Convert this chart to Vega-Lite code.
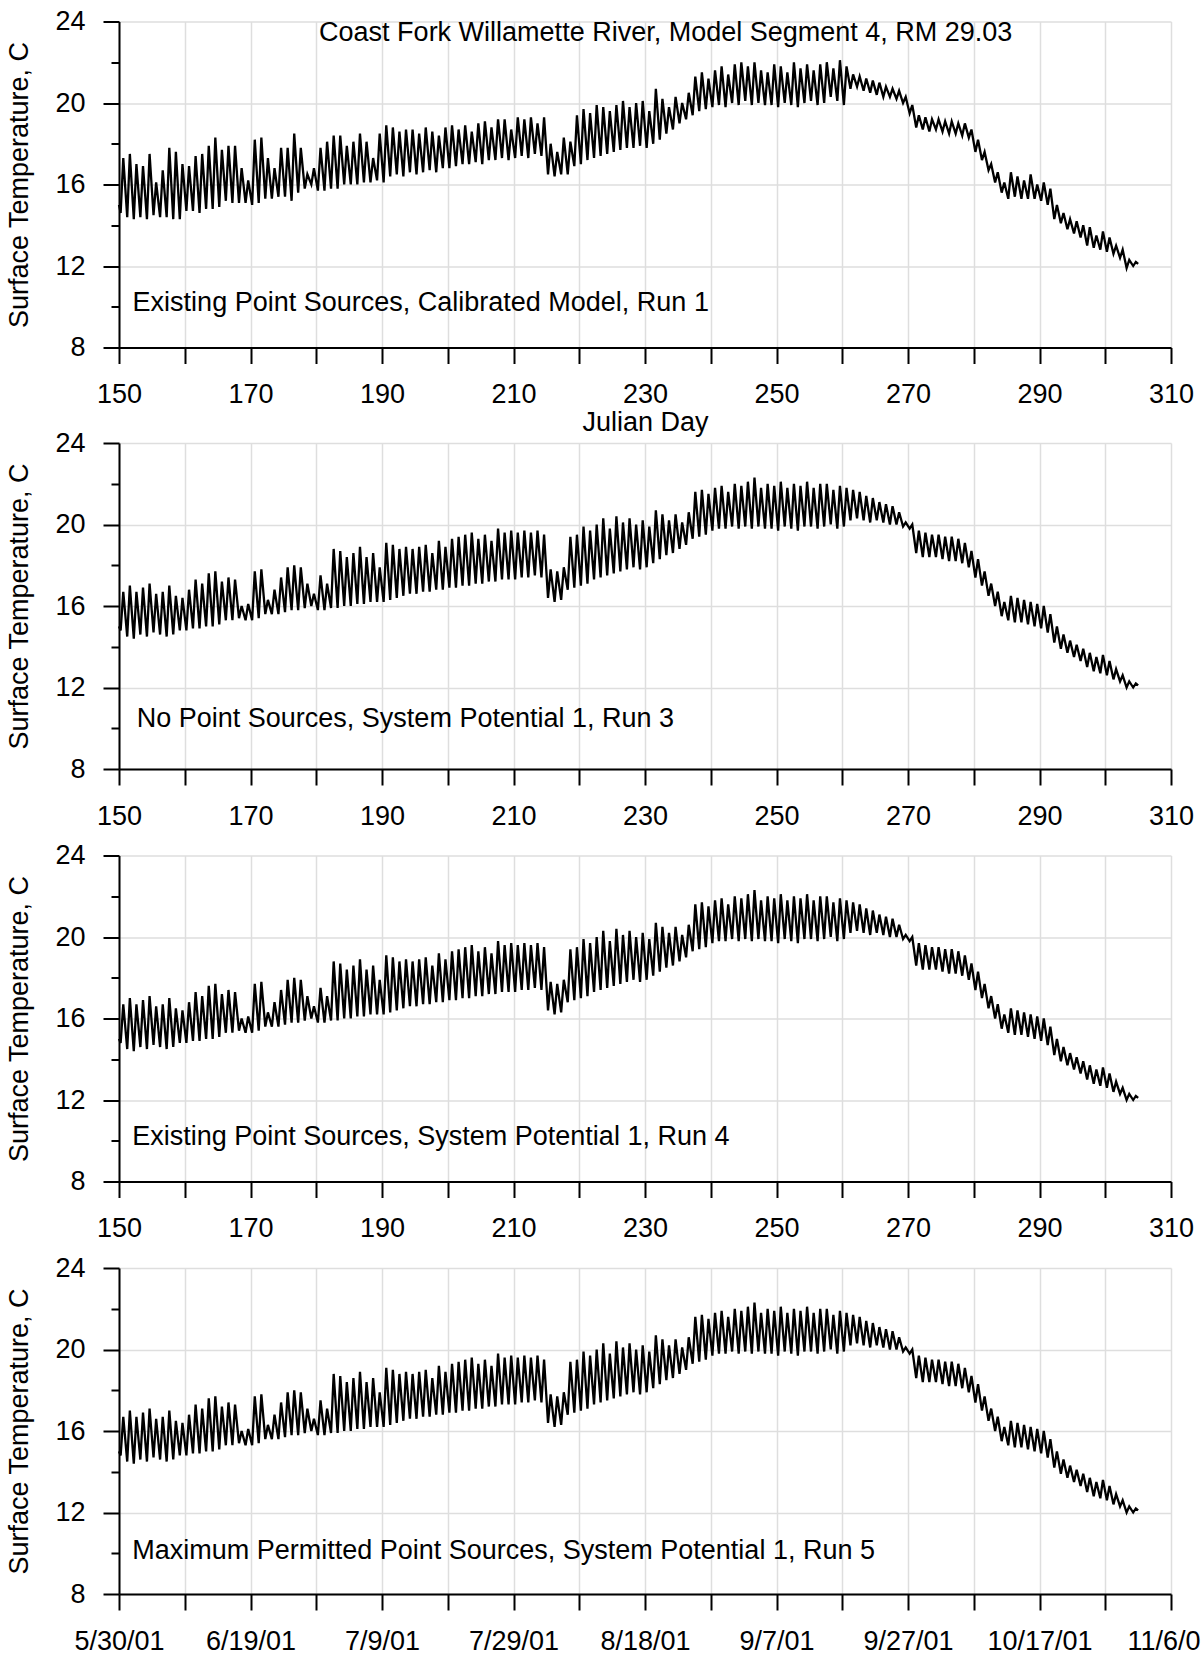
{
"$schema":"https://vega.github.io/schema/vega-lite/v6.json",
"padding":{"left":5,"top":7.5,"right":-14,"bottom":0},
"autosize":{"type":"pad"},
"background":"white",
"config":{"font":"Liberation Sans","view":{"stroke":null},
"axis":{"domainColor":"black","domainWidth":2,"tickColor":"black","tickWidth":2,"gridColor":"#dedede","gridWidth":1.5,"labelFont":"Liberation Sans","labelFontSize":27,"labelColor":"black","titleFont":"Liberation Sans","titleFontSize":27,"titleFontWeight":"normal","titleColor":"black","labelOverlap":false,"labelFlush":false}},
"datasets":{"temps":[
{"d":150,"r1":15.0,"sp":15.0},
{"d":150.25,"r1":14.6,"sp":14.8},{"d":150.65,"r1":17.3,"sp":16.7},
{"d":151.25,"r1":14.4,"sp":14.5},{"d":151.65,"r1":17.5,"sp":17.0},
{"d":152.25,"r1":14.3,"sp":14.4},{"d":152.65,"r1":17.0,"sp":16.7},
{"d":153.25,"r1":14.4,"sp":14.6},{"d":153.65,"r1":16.9,"sp":16.9},
{"d":154.25,"r1":14.3,"sp":14.5},{"d":154.65,"r1":17.5,"sp":17.1},
{"d":155.25,"r1":14.5,"sp":14.7},{"d":155.65,"r1":16.1,"sp":16.6},
{"d":156.25,"r1":14.4,"sp":14.6},{"d":156.65,"r1":16.7,"sp":16.7},
{"d":157.25,"r1":14.4,"sp":14.5},{"d":157.65,"r1":17.8,"sp":17.0},
{"d":158.25,"r1":14.3,"sp":14.6},{"d":158.65,"r1":17.6,"sp":16.5},
{"d":159.25,"r1":14.3,"sp":14.8},{"d":159.65,"r1":17.0,"sp":16.4},
{"d":160.25,"r1":14.7,"sp":14.8},{"d":160.65,"r1":16.9,"sp":16.8},
{"d":161.25,"r1":14.7,"sp":14.9},{"d":161.65,"r1":17.4,"sp":17.3},
{"d":162.25,"r1":14.6,"sp":14.9},{"d":162.65,"r1":17.5,"sp":17.1},
{"d":163.25,"r1":14.8,"sp":15.0},{"d":163.65,"r1":17.9,"sp":17.6},
{"d":164.25,"r1":14.8,"sp":15.0},{"d":164.65,"r1":18.3,"sp":17.7},
{"d":165.25,"r1":14.9,"sp":15.1},{"d":165.65,"r1":17.7,"sp":17.2},
{"d":166.25,"r1":15.2,"sp":15.3},{"d":166.65,"r1":17.9,"sp":17.4},
{"d":167.25,"r1":15.1,"sp":15.3},{"d":167.65,"r1":17.9,"sp":17.3},
{"d":168.25,"r1":15.1,"sp":15.4},{"d":168.65,"r1":16.8,"sp":16.0},
{"d":169.25,"r1":15.1,"sp":15.3},{"d":169.65,"r1":16.2,"sp":16.1},
{"d":170.25,"r1":15.0,"sp":15.3},{"d":170.65,"r1":18.2,"sp":17.7},
{"d":171.25,"r1":15.1,"sp":15.4},{"d":171.65,"r1":18.3,"sp":17.8},
{"d":172.25,"r1":15.3,"sp":15.6},{"d":172.65,"r1":17.3,"sp":16.3},
{"d":173.25,"r1":15.3,"sp":15.6},{"d":173.65,"r1":16.8,"sp":16.8},
{"d":174.25,"r1":15.4,"sp":15.6},{"d":174.65,"r1":17.8,"sp":17.4},
{"d":175.25,"r1":15.4,"sp":15.7},{"d":175.65,"r1":17.8,"sp":17.9},
{"d":176.25,"r1":15.2,"sp":15.8},{"d":176.65,"r1":18.5,"sp":18.0},
{"d":177.25,"r1":15.6,"sp":15.8},{"d":177.65,"r1":17.8,"sp":17.9},
{"d":178.25,"r1":15.8,"sp":15.9},{"d":178.65,"r1":16.5,"sp":17.1},
{"d":179.25,"r1":16.0,"sp":16.0},{"d":179.65,"r1":16.8,"sp":16.6},
{"d":180.25,"r1":15.7,"sp":15.8},{"d":180.65,"r1":17.8,"sp":17.5},
{"d":181.25,"r1":15.7,"sp":15.8},{"d":181.65,"r1":18.1,"sp":17.1},
{"d":182.25,"r1":15.8,"sp":15.9},{"d":182.65,"r1":18.4,"sp":18.8},
{"d":183.25,"r1":15.8,"sp":15.9},{"d":183.65,"r1":18.4,"sp":18.7},
{"d":184.25,"r1":16.0,"sp":16.0},{"d":184.65,"r1":17.9,"sp":18.4},
{"d":185.25,"r1":16.0,"sp":16.0},{"d":185.65,"r1":18.1,"sp":18.6},
{"d":186.25,"r1":16.0,"sp":16.1},{"d":186.65,"r1":18.5,"sp":18.9},
{"d":187.25,"r1":16.1,"sp":16.1},{"d":187.65,"r1":18.1,"sp":18.4},
{"d":188.25,"r1":16.1,"sp":16.2},{"d":188.65,"r1":17.3,"sp":18.6},
{"d":189.25,"r1":16.2,"sp":16.2},{"d":189.65,"r1":18.5,"sp":17.9},
{"d":190.25,"r1":16.1,"sp":16.2},{"d":190.65,"r1":18.9,"sp":19.1},
{"d":191.25,"r1":16.4,"sp":16.3},{"d":191.65,"r1":18.8,"sp":19.0},
{"d":192.25,"r1":16.5,"sp":16.4},{"d":192.65,"r1":18.6,"sp":18.8},
{"d":193.25,"r1":16.4,"sp":16.5},{"d":193.65,"r1":18.7,"sp":18.9},
{"d":194.25,"r1":16.6,"sp":16.6},{"d":194.65,"r1":18.7,"sp":18.8},
{"d":195.25,"r1":16.5,"sp":16.6},{"d":195.65,"r1":18.5,"sp":18.9},
{"d":196.25,"r1":16.6,"sp":16.7},{"d":196.65,"r1":18.8,"sp":19.0},
{"d":197.25,"r1":16.7,"sp":16.7},{"d":197.65,"r1":18.6,"sp":18.6},
{"d":198.25,"r1":16.6,"sp":16.8},{"d":198.65,"r1":18.4,"sp":19.2},
{"d":199.25,"r1":16.8,"sp":16.8},{"d":199.65,"r1":18.8,"sp":18.9},
{"d":200.25,"r1":16.8,"sp":16.9},{"d":200.65,"r1":18.9,"sp":19.3},
{"d":201.25,"r1":16.9,"sp":16.9},{"d":201.65,"r1":18.7,"sp":19.4},
{"d":202.25,"r1":17.0,"sp":17.0},{"d":202.65,"r1":18.9,"sp":19.5},
{"d":203.25,"r1":17.0,"sp":17.0},{"d":203.65,"r1":18.6,"sp":19.6},
{"d":204.25,"r1":17.1,"sp":17.1},{"d":204.65,"r1":19.0,"sp":19.3},
{"d":205.25,"r1":17.0,"sp":17.1},{"d":205.65,"r1":19.1,"sp":19.5},
{"d":206.25,"r1":17.2,"sp":17.2},{"d":206.65,"r1":18.8,"sp":19.2},
{"d":207.25,"r1":17.2,"sp":17.2},{"d":207.65,"r1":19.2,"sp":19.8},
{"d":208.25,"r1":17.3,"sp":17.3},{"d":208.65,"r1":19.2,"sp":19.6},
{"d":209.25,"r1":17.2,"sp":17.3},{"d":209.65,"r1":18.7,"sp":19.7},
{"d":210.25,"r1":17.3,"sp":17.3},{"d":210.65,"r1":19.3,"sp":19.6},
{"d":211.25,"r1":17.4,"sp":17.4},{"d":211.65,"r1":19.2,"sp":19.7},
{"d":212.25,"r1":17.3,"sp":17.4},{"d":212.65,"r1":19.3,"sp":19.6},
{"d":213.25,"r1":17.5,"sp":17.5},{"d":213.65,"r1":19.0,"sp":19.7},
{"d":214.25,"r1":17.4,"sp":17.4},{"d":214.65,"r1":19.3,"sp":19.5},
{"d":215.25,"r1":16.5,"sp":16.4},{"d":215.65,"r1":18.0,"sp":17.8},
{"d":216.25,"r1":16.4,"sp":16.2},{"d":216.65,"r1":17.6,"sp":17.7},
{"d":217.25,"r1":16.5,"sp":16.3},{"d":217.65,"r1":18.3,"sp":17.9},
{"d":218.25,"r1":16.5,"sp":16.8},{"d":218.65,"r1":18.1,"sp":19.4},
{"d":219.25,"r1":16.9,"sp":16.9},{"d":219.65,"r1":19.4,"sp":19.5},
{"d":220.25,"r1":17.0,"sp":17.0},{"d":220.65,"r1":19.7,"sp":19.9},
{"d":221.25,"r1":17.2,"sp":17.1},{"d":221.65,"r1":19.5,"sp":19.7},
{"d":222.25,"r1":17.3,"sp":17.3},{"d":222.65,"r1":19.9,"sp":20.0},
{"d":223.25,"r1":17.4,"sp":17.4},{"d":223.65,"r1":19.8,"sp":20.3},
{"d":224.25,"r1":17.5,"sp":17.5},{"d":224.65,"r1":19.6,"sp":19.8},
{"d":225.25,"r1":17.6,"sp":17.6},{"d":225.65,"r1":19.9,"sp":20.4},
{"d":226.25,"r1":17.7,"sp":17.7},{"d":226.65,"r1":20.1,"sp":20.1},
{"d":227.25,"r1":17.8,"sp":17.8},{"d":227.65,"r1":19.8,"sp":20.3},
{"d":228.25,"r1":17.8,"sp":17.9},{"d":228.65,"r1":20.0,"sp":20.0},
{"d":229.25,"r1":17.9,"sp":17.8},{"d":229.65,"r1":20.1,"sp":20.2},
{"d":230.25,"r1":17.8,"sp":17.9},{"d":230.65,"r1":19.6,"sp":19.9},
{"d":231.25,"r1":18.0,"sp":18.1},{"d":231.65,"r1":20.7,"sp":20.7},
{"d":232.25,"r1":18.2,"sp":18.3},{"d":232.65,"r1":20.2,"sp":20.5},
{"d":233.25,"r1":18.5,"sp":18.5},{"d":233.65,"r1":19.8,"sp":20.2},
{"d":234.25,"r1":18.7,"sp":18.6},{"d":234.65,"r1":20.3,"sp":20.5},
{"d":235.25,"r1":19.0,"sp":18.8},{"d":235.65,"r1":20.0,"sp":20.1},
{"d":236.25,"r1":19.2,"sp":19.0},{"d":236.65,"r1":20.5,"sp":20.6},
{"d":237.25,"r1":19.4,"sp":19.3},{"d":237.65,"r1":21.3,"sp":21.6},
{"d":238.25,"r1":19.6,"sp":19.4},{"d":238.65,"r1":21.5,"sp":21.7},
{"d":239.25,"r1":19.7,"sp":19.5},{"d":239.65,"r1":21.2,"sp":21.5},
{"d":240.25,"r1":19.8,"sp":19.7},{"d":240.65,"r1":21.6,"sp":21.8},
{"d":241.25,"r1":19.9,"sp":19.8},{"d":241.65,"r1":21.8,"sp":21.9},
{"d":242.25,"r1":19.8,"sp":19.8},{"d":242.65,"r1":21.4,"sp":21.6},
{"d":243.25,"r1":20.0,"sp":19.9},{"d":243.65,"r1":21.9,"sp":22.0},
{"d":244.25,"r1":19.9,"sp":19.8},{"d":244.65,"r1":22.0,"sp":21.9},
{"d":245.25,"r1":20.1,"sp":19.9},{"d":245.65,"r1":21.8,"sp":22.1},
{"d":246.25,"r1":19.9,"sp":19.8},{"d":246.65,"r1":22.0,"sp":22.3},
{"d":247.25,"r1":20.0,"sp":19.9},{"d":247.65,"r1":21.6,"sp":21.8},
{"d":248.25,"r1":19.9,"sp":19.8},{"d":248.65,"r1":21.5,"sp":22.0},
{"d":249.25,"r1":19.9,"sp":19.8},{"d":249.65,"r1":21.9,"sp":21.9},
{"d":250.25,"r1":19.8,"sp":19.7},{"d":250.65,"r1":21.8,"sp":22.1},
{"d":251.25,"r1":20.0,"sp":19.9},{"d":251.65,"r1":21.5,"sp":21.8},
{"d":252.25,"r1":19.9,"sp":19.8},{"d":252.65,"r1":22.0,"sp":22.0},
{"d":253.25,"r1":19.8,"sp":19.7},{"d":253.65,"r1":21.7,"sp":21.9},
{"d":254.25,"r1":20.0,"sp":19.9},{"d":254.65,"r1":21.9,"sp":22.1},
{"d":255.25,"r1":20.1,"sp":19.9},{"d":255.65,"r1":21.6,"sp":21.8},
{"d":256.25,"r1":19.9,"sp":19.8},{"d":256.65,"r1":21.9,"sp":22.0},
{"d":257.25,"r1":20.0,"sp":19.9},{"d":257.65,"r1":22.0,"sp":22.0},
{"d":258.25,"r1":20.3,"sp":20.0},{"d":258.65,"r1":21.7,"sp":21.7},
{"d":259.25,"r1":20.1,"sp":19.8},{"d":259.65,"r1":22.1,"sp":21.9},
{"d":260.25,"r1":19.9,"sp":19.9},{"d":260.65,"r1":21.8,"sp":21.8},
{"d":261.25,"r1":20.7,"sp":20.2},{"d":261.65,"r1":21.4,"sp":21.7},
{"d":262.25,"r1":20.8,"sp":20.3},{"d":262.65,"r1":21.3,"sp":21.6},
{"d":263.25,"r1":20.6,"sp":20.2},{"d":263.65,"r1":21.2,"sp":21.4},
{"d":264.25,"r1":20.5,"sp":20.1},{"d":264.65,"r1":21.1,"sp":21.3},
{"d":265.25,"r1":20.4,"sp":20.2},{"d":265.65,"r1":21.0,"sp":21.1},
{"d":266.25,"r1":20.3,"sp":20.1},{"d":266.65,"r1":20.8,"sp":21.0},
{"d":267.25,"r1":20.3,"sp":20.0},{"d":267.65,"r1":20.7,"sp":20.9},
{"d":268.25,"r1":20.2,"sp":20.0},{"d":268.65,"r1":20.6,"sp":20.6},
{"d":269.25,"r1":20.0,"sp":19.9},{"d":269.65,"r1":20.3,"sp":20.1},
{"d":270.25,"r1":19.5,"sp":19.8},{"d":270.65,"r1":19.9,"sp":20.0},
{"d":271.25,"r1":18.8,"sp":18.6},{"d":271.65,"r1":19.4,"sp":19.7},
{"d":272.25,"r1":18.7,"sp":18.4},{"d":272.65,"r1":19.3,"sp":19.6},
{"d":273.25,"r1":18.6,"sp":18.4},{"d":273.65,"r1":19.2,"sp":19.5},
{"d":274.25,"r1":18.7,"sp":18.4},{"d":274.65,"r1":19.2,"sp":19.5},
{"d":275.25,"r1":18.6,"sp":18.3},{"d":275.65,"r1":19.1,"sp":19.4},
{"d":276.25,"r1":18.5,"sp":18.2},{"d":276.65,"r1":19.1,"sp":19.4},
{"d":277.25,"r1":18.5,"sp":18.2},{"d":277.65,"r1":19.0,"sp":19.3},
{"d":278.25,"r1":18.4,"sp":18.1},{"d":278.65,"r1":19.0,"sp":19.1},
{"d":279.25,"r1":18.3,"sp":17.9},{"d":279.65,"r1":18.7,"sp":18.7},
{"d":280.25,"r1":17.6,"sp":17.4},{"d":280.65,"r1":18.2,"sp":18.3},
{"d":281.25,"r1":17.2,"sp":17.0},{"d":281.65,"r1":17.6,"sp":17.7},
{"d":282.25,"r1":16.7,"sp":16.5},{"d":282.65,"r1":17.0,"sp":17.1},
{"d":283.25,"r1":16.1,"sp":16.0},{"d":283.65,"r1":16.6,"sp":16.7},
{"d":284.25,"r1":15.6,"sp":15.5},{"d":284.65,"r1":16.1,"sp":16.2},
{"d":285.25,"r1":15.3,"sp":15.3},{"d":285.65,"r1":16.6,"sp":16.5},
{"d":286.25,"r1":15.4,"sp":15.2},{"d":286.65,"r1":16.4,"sp":16.4},
{"d":287.25,"r1":15.3,"sp":15.2},{"d":287.65,"r1":16.2,"sp":16.3},
{"d":288.25,"r1":15.3,"sp":15.1},{"d":288.65,"r1":16.5,"sp":16.2},
{"d":289.25,"r1":15.3,"sp":15.0},{"d":289.65,"r1":16.0,"sp":16.1},
{"d":290.25,"r1":15.2,"sp":14.9},{"d":290.65,"r1":16.1,"sp":16.0},
{"d":291.25,"r1":15.0,"sp":14.7},{"d":291.65,"r1":15.8,"sp":15.6},
{"d":292.25,"r1":14.3,"sp":14.2},{"d":292.65,"r1":15.0,"sp":15.0},
{"d":293.25,"r1":14.1,"sp":13.9},{"d":293.65,"r1":14.6,"sp":14.6},
{"d":294.25,"r1":13.8,"sp":13.7},{"d":294.65,"r1":14.3,"sp":14.3},
{"d":295.25,"r1":13.6,"sp":13.5},{"d":295.65,"r1":14.2,"sp":14.1},
{"d":296.25,"r1":13.4,"sp":13.3},{"d":296.65,"r1":14.0,"sp":13.9},
{"d":297.25,"r1":13.0,"sp":13.0},{"d":297.65,"r1":13.9,"sp":13.7},
{"d":298.25,"r1":12.9,"sp":12.8},{"d":298.65,"r1":13.5,"sp":13.5},
{"d":299.25,"r1":12.8,"sp":12.7},{"d":299.65,"r1":13.7,"sp":13.6},
{"d":300.25,"r1":12.7,"sp":12.6},{"d":300.65,"r1":13.4,"sp":13.3},
{"d":301.25,"r1":12.6,"sp":12.4},{"d":301.65,"r1":13.0,"sp":12.9},
{"d":302.25,"r1":12.4,"sp":12.3},{"d":302.65,"r1":12.8,"sp":12.6},
{"d":303.25,"r1":11.9,"sp":12.0},{"d":303.65,"r1":12.3,"sp":12.3},
{"d":304.25,"r1":12.0,"sp":12.0},{"d":304.65,"r1":12.2,"sp":12.2},
{"d":305,"r1":12.1,"sp":12.1}
]},
"spacing":-6.5,
"bounds":"full",
"vconcat":[
{"width":1052,"height":326,"layer":[
 {"data":{"name":"temps"},"mark":{"type":"line","color":"black","strokeWidth":2.3},
  "encoding":{
   "x":{"field":"d","type":"quantitative","scale":{"domain":[150,310],"nice":false,"zero":false},
    "axis":{"values":[150,155,160,165,170,175,180,185,190,195,200,205,210,215,220,225,230,235,240,245,250,255,260,265,270,275,280,285,290,295,300,305,310],"labelExpr":"datum.value % 20 === 10 ? datum.label : ''","tickSize":{"condition":{"test":"datum.value % 10 === 0","value":16},"value":8},"gridOpacity":{"condition":{"test":"datum.value % 10 === 0","value":1},"value":0},"labelPadding":18,"title":"Julian Day","titlePadding":2}},
   "y":{"field":"r1","type":"quantitative","scale":{"domain":[8,24],"nice":false,"zero":false},
    "axis":{"values":[8,10,12,14,16,18,20,22,24],"labelExpr":"datum.value % 4 === 0 ? datum.label : ''","tickSize":{"condition":{"test":"datum.value % 4 === 0","value":16},"value":8},"gridOpacity":{"condition":{"test":"datum.value % 4 === 0","value":1},"value":0},"labelPadding":18,"title":"Surface Temperature, C","titlePadding":21}}}},
 {"data":{"values":[{}]},"mark":{"type":"text","align":"left","baseline":"middle","fontSize":27,"color":"black","font":"Liberation Sans"},
  "encoding":{"x":{"datum":152.07,"type":"quantitative"},"y":{"datum":10.17,"type":"quantitative"},"text":{"value":"Existing Point Sources, Calibrated Model, Run 1"}}},
 {"data":{"values":[{}]},"mark":{"type":"text","align":"center","baseline":"middle","fontSize":27,"color":"black","font":"Liberation Sans"},
  "encoding":{"x":{"datum":233.15,"type":"quantitative"},"y":{"datum":23.44,"type":"quantitative"},"text":{"value":"Coast Fork Willamette River, Model Segment 4, RM 29.03"}}}
]},
{"spacing":86.5,"bounds":"flush","vconcat":[
{"width":1052,"height":326,"layer":[
 {"data":{"name":"temps"},"mark":{"type":"line","color":"black","strokeWidth":2.3},
  "encoding":{
   "x":{"field":"d","type":"quantitative","scale":{"domain":[150,310],"nice":false,"zero":false},
    "axis":{"values":[150,155,160,165,170,175,180,185,190,195,200,205,210,215,220,225,230,235,240,245,250,255,260,265,270,275,280,285,290,295,300,305,310],"labelExpr":"datum.value % 20 === 10 ? datum.label : ''","tickSize":{"condition":{"test":"datum.value % 10 === 0","value":16},"value":8},"gridOpacity":{"condition":{"test":"datum.value % 10 === 0","value":1},"value":0},"labelPadding":18,"title":null}},
   "y":{"field":"sp","type":"quantitative","scale":{"domain":[8,24],"nice":false,"zero":false},
    "axis":{"values":[8,10,12,14,16,18,20,22,24],"labelExpr":"datum.value % 4 === 0 ? datum.label : ''","tickSize":{"condition":{"test":"datum.value % 4 === 0","value":16},"value":8},"gridOpacity":{"condition":{"test":"datum.value % 4 === 0","value":1},"value":0},"labelPadding":18,"title":"Surface Temperature, C","titlePadding":21}}}},
 {"data":{"values":[{}]},"mark":{"type":"text","align":"left","baseline":"middle","fontSize":27,"color":"black","font":"Liberation Sans"},
  "encoding":{"x":{"datum":152.7,"type":"quantitative"},"y":{"datum":10.43,"type":"quantitative"},"text":{"value":"No Point Sources, System Potential 1, Run 3"}}}
]},
{"width":1052,"height":326,"layer":[
 {"data":{"name":"temps"},"mark":{"type":"line","color":"black","strokeWidth":2.3},
  "encoding":{
   "x":{"field":"d","type":"quantitative","scale":{"domain":[150,310],"nice":false,"zero":false},
    "axis":{"values":[150,155,160,165,170,175,180,185,190,195,200,205,210,215,220,225,230,235,240,245,250,255,260,265,270,275,280,285,290,295,300,305,310],"labelExpr":"datum.value % 20 === 10 ? datum.label : ''","tickSize":{"condition":{"test":"datum.value % 10 === 0","value":16},"value":8},"gridOpacity":{"condition":{"test":"datum.value % 10 === 0","value":1},"value":0},"labelPadding":18,"title":null}},
   "y":{"field":"sp","type":"quantitative","scale":{"domain":[8,24],"nice":false,"zero":false},
    "axis":{"values":[8,10,12,14,16,18,20,22,24],"labelExpr":"datum.value % 4 === 0 ? datum.label : ''","tickSize":{"condition":{"test":"datum.value % 4 === 0","value":16},"value":8},"gridOpacity":{"condition":{"test":"datum.value % 4 === 0","value":1},"value":0},"labelPadding":18,"title":"Surface Temperature, C","titlePadding":21}}}},
 {"data":{"values":[{}]},"mark":{"type":"text","align":"left","baseline":"middle","fontSize":27,"color":"black","font":"Liberation Sans"},
  "encoding":{"x":{"datum":152.0,"type":"quantitative"},"y":{"datum":10.2,"type":"quantitative"},"text":{"value":"Existing Point Sources, System Potential 1, Run 4"}}}
]},
{"width":1052,"height":326,"layer":[
 {"data":{"name":"temps"},"mark":{"type":"line","color":"black","strokeWidth":2.3},
  "encoding":{
   "x":{"field":"d","type":"quantitative","scale":{"domain":[150,310],"nice":false,"zero":false},
    "axis":{"values":[150,155,160,165,170,175,180,185,190,195,200,205,210,215,220,225,230,235,240,245,250,255,260,265,270,275,280,285,290,295,300,305,310],"labelExpr":"datum.value % 20 === 10 ? timeFormat(datetime(2001, 0, datum.value), '%-m/%-d/%y') : ''","tickSize":{"condition":{"test":"datum.value % 10 === 0","value":16},"value":8},"gridOpacity":{"condition":{"test":"datum.value % 10 === 0","value":1},"value":0},"labelPadding":18,"title":null}},
   "y":{"field":"sp","type":"quantitative","scale":{"domain":[8,24],"nice":false,"zero":false},
    "axis":{"values":[8,10,12,14,16,18,20,22,24],"labelExpr":"datum.value % 4 === 0 ? datum.label : ''","tickSize":{"condition":{"test":"datum.value % 4 === 0","value":16},"value":8},"gridOpacity":{"condition":{"test":"datum.value % 4 === 0","value":1},"value":0},"labelPadding":18,"title":"Surface Temperature, C","titlePadding":21}}}},
 {"data":{"values":[{}]},"mark":{"type":"text","align":"left","baseline":"middle","fontSize":27,"color":"black","font":"Liberation Sans"},
  "encoding":{"x":{"datum":152.0,"type":"quantitative"},"y":{"datum":10.1,"type":"quantitative"},"text":{"value":"Maximum Permitted Point Sources, System Potential 1, Run 5"}}}
]}
]}
]
}
